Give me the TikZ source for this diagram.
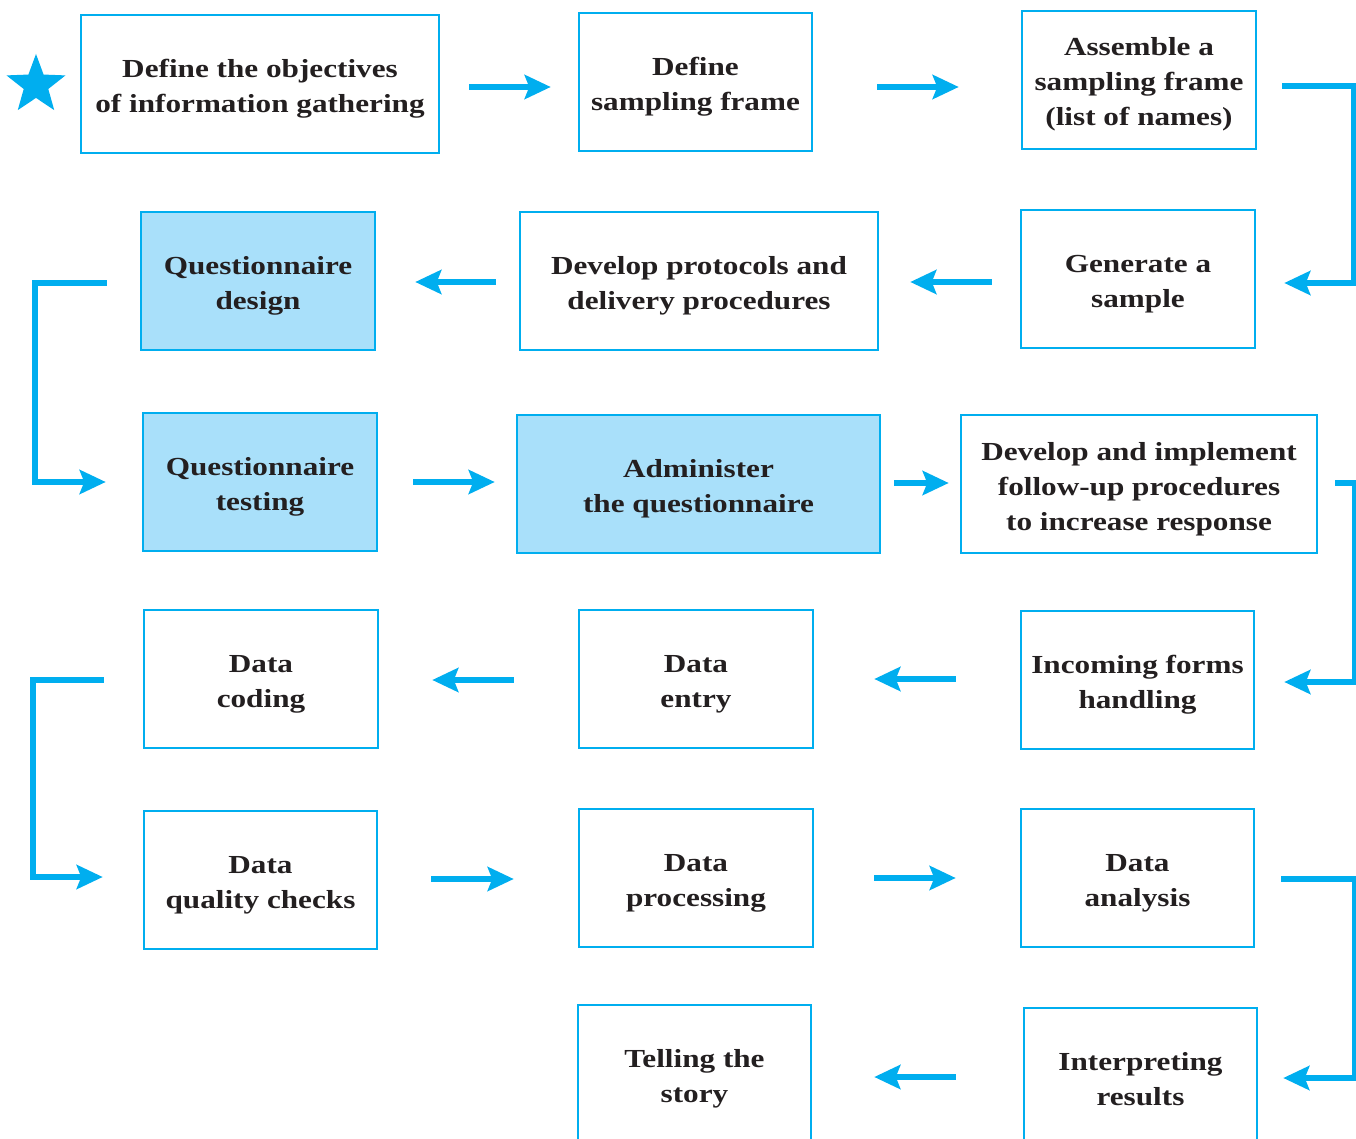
\documentclass[tikz,border=0pt]{standalone}
\usepackage{fontspec}
\setmainfont{Liberation Serif}[FakeStretch=1.2]
\usetikzlibrary{arrows.meta,calc,shapes.geometric}
\definecolor{cbl}{HTML}{00AEEF}
\definecolor{lbl}{HTML}{A9E0FA}
\definecolor{txt}{HTML}{231F20}
\tikzset{
  box/.style={draw=cbl, line width=2.5pt, align=center, inner sep=0pt,
    minimum height=138pt, text=txt, font={\fontsize{26}{35}\selectfont\bfseries},
    text height=63pt, text depth=6pt},
  three/.style={text height=98pt},
  qbox/.style={box, fill=lbl},
  arr/.style={draw=cbl, line width=5.5pt, -{Stealth[length=26pt,width=24pt,inset=4.5pt]}},
}
\begin{document}
\begin{tikzpicture}[x=1pt,y=-1pt]
\useasboundingbox (0,0) rectangle (1356,1139);
\fill[white] (0,0) rectangle (1356,1139);
\clip (0,0) rectangle (1356,1139);
% star
\node[star, star points=5, star point ratio=2.4, fill=cbl, inner sep=0pt, minimum size=62pt] (star) at (36,85) {};
% row 1
\node[box, minimum width=358pt] (b1) at (260,84) {Define the objectives\\of information gathering};
\node[box, minimum width=233pt] (b2) at (695.5,82) {Define\\sampling frame};
\node[box, three, minimum width=234pt] (b3) at (1139,80) {Assemble a\\sampling frame\\(list of names)};
% row 2
\node[box, minimum width=234pt] (b4) at (1138,279) {Generate a\\sample};
\node[box, minimum width=358pt] (b5) at (699,281) {Develop protocols and\\delivery procedures};
\node[qbox, minimum width=234pt] (b6) at (258,281) {Questionnaire\\design};
% row 3
\node[qbox, minimum width=234pt] (b7) at (260,482) {Questionnaire\\testing};
\node[qbox, minimum width=363pt] (b8) at (698.5,484) {Administer\\the questionnaire};
\node[box, three, minimum width=356pt] (b9) at (1139,484) {Develop and implement\\follow-up procedures\\to increase response};
% row 4
\node[box, minimum width=233pt] (b10) at (1137.5,680) {Incoming forms\\handling};
\node[box, minimum width=234pt] (b11) at (696,679) {Data\\entry};
\node[box, minimum width=234pt] (b12) at (261,679) {Data\\coding};
% row 5
\node[box, minimum width=233pt] (b13) at (260.5,880) {Data\\quality checks};
\node[box, minimum width=234pt] (b14) at (696,878) {Data\\processing};
\node[box, minimum width=233pt] (b15) at (1137.5,878) {Data\\analysis};
% row 6
\node[box, minimum width=233pt] (b16) at (1140.5,1077) {Interpreting\\results};
\node[box, minimum width=233pt] (b17) at (694.5,1074) {Telling the\\story};
% arrows
\draw[arr] ($(b1.east)+(29,3)$) -- ($(b2.west)+(-27,5)$);
\draw[arr] ($(b2.east)+(64,5)$) -- ($(b3.west)+(-62,7)$);
\draw[arr] ($(b3.east)+(25,6)$) -- ++(71,0) |- ($(b4.east)+(28,4)$);
\draw[arr] ($(b4.west)+(-28,3)$) -- ($(b5.east)+(31,1)$);
\draw[arr] ($(b5.west)+(-23,1)$) -- ($(b6.east)+(39,1)$);
\draw[arr] ($(b6.west)+(-33,2)$) -- ++(-72,0) |- ($(b7.west)+(-36,0)$);
\draw[arr] ($(b7.east)+(35,0)$) -- ($(b8.west)+(-21,-2)$);
\draw[arr] ($(b8.east)+(13,-1)$) -- ($(b9.west)+(-11,-1)$);
\draw[arr] ($(b9.east)+(17,-1)$) -- ++(19,0) |- ($(b10.east)+(29,2)$);
\draw[arr] ($(b10.west)+(-64,-1)$) -- ($(b11.east)+(60,0)$);
\draw[arr] ($(b11.west)+(-64,1)$) -- ($(b12.east)+(53,1)$);
\draw[arr] ($(b12.west)+(-39,1)$) -- ++(-71,0) |- ($(b13.west)+(-40,-3)$);
\draw[arr] ($(b13.east)+(53,-1)$) -- ($(b14.west)+(-64,1)$);
\draw[arr] ($(b14.east)+(60,0)$) -- ($(b15.west)+(-64,0)$);
\draw[arr] ($(b15.east)+(26,1)$) -- ++(73,0) |- ($(b16.east)+(25,1)$);
\draw[arr] ($(b16.west)+(-67,0)$) -- ($(b17.east)+(62,3)$);
\end{tikzpicture}
\end{document}
